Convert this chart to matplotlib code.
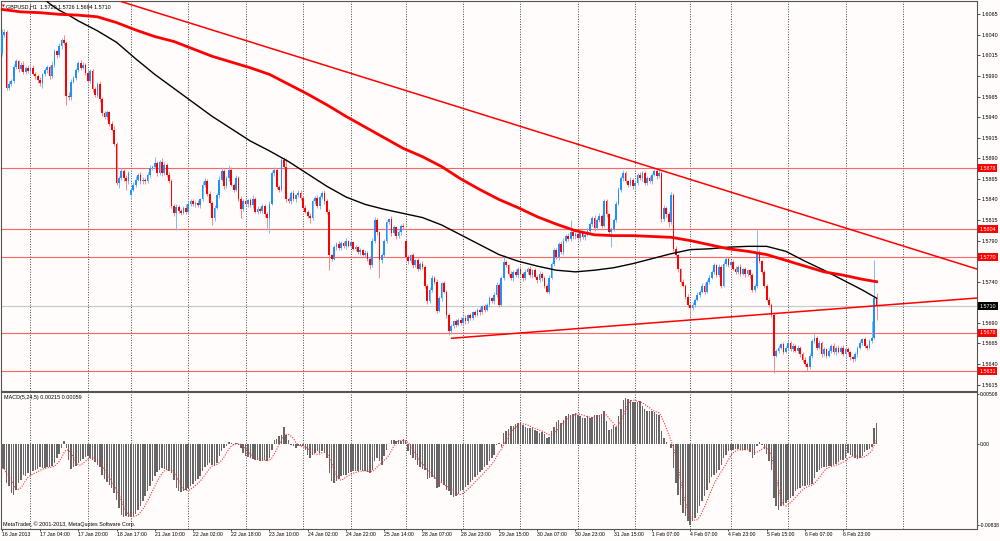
import numpy as np
import pandas as pd
import matplotlib
matplotlib.use("Agg")
import matplotlib.pyplot as plt
from matplotlib.transforms import blended_transform_factory

# ---------------- data (prices in pips above 1.0000) ----------------
first_open = 6018
gap_open = {54: 5846, 169: 5790}

close_pips = [
    6040,6044,5976,5980,5984,6001,6008,5998,6004,5995,6000,5996,6000,5993,5990,5985,5981,5992,5997,6001,
    5990,6004,6020,6015,6026,6034,6030,5966,5964,5983,5988,5997,6006,6000,6004,5994,5984,5996,5974,5967,
    5980,5962,5945,5940,5946,5932,5925,5908,5860,5866,5874,5866,5862,5872,5852,5858,5864,5870,5862,5864,
    5862,5870,5878,5880,5884,5872,5886,5872,5882,5870,5863,5832,5823,5831,5826,5824,5830,5825,5835,5838,
    5834,5836,5833,5840,5858,5863,5847,5836,5817,5830,5845,5864,5874,5856,5866,5876,5858,5852,5866,5841,
    5829,5838,5834,5839,5833,5841,5825,5829,5826,5832,5822,5817,5835,5872,5876,5855,5852,5888,5880,5840,
    5838,5848,5840,5845,5848,5842,5830,5825,5820,5817,5838,5842,5832,5843,5848,5838,5825,5772,5768,5782,
    5786,5781,5787,5783,5789,5784,5788,5780,5782,5776,5778,5773,5775,5768,5760,5790,5815,5800,5766,5772,
    5790,5812,5816,5799,5806,5795,5800,5808,5806,5770,5765,5772,5760,5766,5756,5762,5758,5735,5716,5730,
    5745,5740,5705,5720,5738,5728,5700,5680,5686,5692,5688,5694,5690,5696,5692,5699,5696,5703,5700,5706,
    5703,5710,5706,5712,5720,5716,5724,5736,5712,5745,5764,5760,5750,5744,5752,5748,5756,5750,5744,5752,
    5756,5748,5754,5746,5742,5750,5744,5735,5728,5745,5762,5778,5770,5786,5776,5790,5796,5792,5800,5795,
    5798,5793,5799,5794,5797,5802,5810,5818,5805,5815,5820,5808,5838,5822,5800,5804,5815,5835,5852,5866,
    5872,5862,5858,5864,5856,5860,5870,5866,5872,5860,5866,5862,5870,5875,5868,5872,5816,5830,5822,5812,
    5846,5780,5772,5755,5740,5735,5722,5712,5708,5712,5718,5724,5728,5735,5728,5740,5745,5752,5760,5748,
    5758,5735,5762,5768,5760,5764,5756,5752,5758,5750,5755,5749,5754,5748,5730,5735,5776,5765,5752,5735,
    5718,5712,5700,5650,5656,5660,5664,5655,5660,5666,5658,5662,5656,5660,5652,5645,5640,5636,5650,5668,
    5672,5660,5666,5652,5658,5650,5656,5662,5654,5660,5655,5660,5652,5658,5654,5648,5646,5652,5660,5666,
    5670,5662,5660,5668,5672,5720,5710,
]

upper_wick = [
    7,3,2,4,3,4,3,2,3,4,2,3,2,3,2,3,4,2,3,2,
    3,4,3,2,4,2,6,3,4,3,2,3,2,4,3,2,4,3,2,3,
    3,4,2,3,3,2,3,4,2,3,4,3,4,3,2,3,4,2,3,3,
    2,3,4,2,8,3,2,4,3,2,3,2,3,3,2,3,2,4,3,2,
    3,2,3,2,4,3,2,3,2,3,3,4,6,3,2,6,3,2,4,3,
    3,2,3,2,3,4,2,3,2,3,2,3,3,3,4,2,3,2,3,10,
    3,2,3,2,3,4,2,3,2,3,3,2,4,3,2,3,2,3,2,3,
    2,3,3,2,4,2,3,2,3,2,3,2,3,2,3,3,4,3,2,3,
    2,3,2,4,3,2,3,2,3,2,3,2,3,2,3,2,3,2,2,3,
    3,2,3,3,2,3,2,2,3,2,3,2,3,2,3,2,3,2,3,2,
    3,2,3,2,3,2,3,4,3,2,8,3,2,3,2,3,2,3,2,3,
    2,3,2,3,2,3,2,3,2,3,2,3,3,2,3,3,2,3,15,3,
    2,3,2,3,2,3,3,2,3,2,3,2,3,3,2,3,2,3,3,2,
    4,3,2,3,2,3,2,3,2,3,2,3,2,2,3,5,2,3,2,3,
    3,2,3,2,2,3,2,3,2,3,2,3,2,3,3,2,3,2,3,2,
    3,2,3,2,2,3,2,3,2,3,2,3,2,2,3,2,27,3,2,2,
    2,3,2,3,2,3,2,3,2,3,2,3,2,3,2,2,3,2,3,3,
    5,2,3,2,3,2,3,2,3,2,3,2,3,2,3,2,2,3,2,3,
    2,3,2,3,20,46,6,
]

lower_wick = [
    4,3,3,3,2,3,2,3,2,3,3,2,3,2,3,4,3,5,2,3,
    3,2,3,3,2,3,2,11,3,3,2,3,2,3,2,3,3,2,4,3,
    2,3,3,2,3,3,2,3,3,6,2,3,10,3,3,2,3,2,3,3,
    3,2,3,2,3,3,2,3,2,3,3,2,3,20,2,3,2,3,2,3,
    2,3,2,3,2,3,3,2,8,3,2,3,2,3,2,3,2,3,2,3,
    12,3,2,3,2,3,2,3,2,3,3,12,18,2,3,2,3,2,3,3,
    2,3,2,3,2,3,3,2,3,6,2,3,2,3,2,3,3,18,3,2,
    3,2,3,2,3,2,3,2,3,2,3,2,3,3,5,2,3,3,22,3,
    2,3,2,3,2,3,2,3,2,3,3,2,3,2,3,2,3,3,3,2,
    2,3,3,2,3,2,4,5,3,2,3,2,3,2,3,2,3,2,3,2,
    3,2,3,2,3,2,3,2,3,2,3,2,3,2,3,2,3,2,3,2,
    3,2,3,2,3,2,3,3,2,3,2,3,2,3,2,3,2,3,2,3,
    3,2,3,2,3,2,3,2,3,2,3,3,2,3,3,18,2,3,2,3,
    3,2,3,2,3,2,3,2,3,2,3,2,3,2,3,2,3,2,3,5,
    2,3,2,3,3,2,3,3,10,2,3,2,3,2,3,2,3,2,3,2,
    2,3,2,3,2,3,2,3,2,3,2,3,2,3,3,2,3,2,3,3,
    2,3,3,21,2,3,2,3,2,3,2,3,2,3,3,2,3,5,2,3,
    2,3,2,3,2,3,2,3,2,3,2,3,2,3,2,3,3,2,3,2,
    3,2,3,2,3,2,16,
]

# MACD main line, in units of 0.00001
macd_e5 = [
    -250,-265,-405,-439,-508,-525,-473,-405,-370,-319,-336,-302,-319,-285,-274,-261,-240,-250,-250,-240,
    -240,-226,-199,-147,-103,-45,24,-45,-165,-261,-240,-226,-199,-182,-158,-137,-123,-147,-165,-192,
    -216,-240,-319,-364,-398,-422,-456,-508,-576,-662,-731,-755,-748,-755,-755,-748,-720,-679,-638,-593,
    -542,-490,-439,-388,-336,-295,-268,-250,-261,-274,-285,-302,-370,-456,-490,-501,-490,-473,-456,-432,
    -412,-388,-364,-336,-285,-240,-216,-199,-216,-233,-199,-130,-79,-45,-21,14,7,-10,7,-10,
    -45,-96,-123,-137,-147,-158,-165,-172,-175,-175,-172,-182,-147,-62,41,48,75,93,172,93,
    41,-10,-20,-45,-27,-21,-27,-62,-113,-147,-113,-96,-79,-96,-79,-96,-147,-302,-388,-405,
    -388,-364,-336,-319,-319,-302,-295,-285,-285,-285,-268,-278,-285,-295,-302,-268,-182,-147,-182,-216,
    -130,-62,0,41,41,24,34,24,48,24,-79,-113,-147,-172,-216,-240,-261,-268,-364,-353,
    -343,-364,-456,-446,-398,-422,-473,-490,-525,-549,-535,-515,-490,-473,-446,-422,-398,-370,-343,-319,
    -295,-268,-240,-216,-182,-147,-113,-10,7,-34,110,127,151,178,185,206,213,223,196,172,
    158,158,161,137,127,110,117,103,58,69,127,172,220,247,213,247,281,309,298,309,
    316,298,288,264,264,281,264,274,298,298,298,309,333,230,144,151,196,172,281,357,
    453,470,460,446,425,425,425,436,391,357,333,333,333,322,309,298,127,58,14,0,
    -45,-250,-405,-525,-628,-713,-748,-799,-833,-799,-765,-713,-645,-593,-542,-473,-405,-343,-319,-302,
    -268,-216,-147,-113,-79,-62,-69,-55,-55,-69,-69,-62,-55,-89,-147,-113,-27,14,-10,-55,
    -103,-182,-268,-559,-645,-679,-645,-628,-611,-583,-559,-535,-490,-466,-456,-439,-432,-422,-422,-412,
    -353,-295,-268,-250,-240,-240,-226,-226,-216,-206,-192,-172,-165,-147,-96,-113,-123,-147,-158,-147,
    -123,-89,-69,-55,-34,161,215,
]
signal_period = 5

# moving averages read at sample bars (pips above 1.0000)
black_ma_idx = [16,20,24,28,32,40,48,56,64,72,80,88,96,104,112,120,128,136,144,152,160,168,176,184,192,200,
                208,216,224,232,240,248,256,264,272,280,288,296,304,312,320,328,336,344,352,360,366]
black_ma = [6088,6078,6070,6064,6057,6045,6031,6011,5992,5975,5958,5941,5926,5911,5899,5886,5871,5856,5843,
            5834,5828,5823,5818,5809,5797,5785,5773,5765,5759,5754,5752,5754,5757,5762,5768,5774,5779,5780,
            5782,5783,5783,5777,5765,5754,5742,5730,5720]
red_ma_idx = [0,8,16,24,32,40,48,56,64,72,80,88,96,104,112,120,128,136,144,152,160,168,176,184,192,200,
              208,216,224,232,240,248,256,264,272,280,288,296,304,312,320,328,336,344,352,360,366]
red_ma = [6071,6068,6067,6065,6064,6062,6055,6046,6038,6032,6023,6014,6007,6000,5992,5980,5968,5955,5941,
          5928,5915,5902,5892,5880,5865,5852,5840,5830,5819,5810,5802,5797,5796,5796,5795,5794,5790,5785,
          5780,5777,5773,5766,5759,5752,5748,5743,5740]

# chart objects
hline_levels = [1.5878, 1.5804, 1.5770, 1.5678, 1.5631]
bid_level = 1.5710
upper_trend = [(50.2, 1.60803), (408.0, 1.57554)]
lower_trend = [(188.2, 1.56713), (408.0, 1.57202)]
day_separators = [12, 36, 54, 78, 102, 126, 146, 169, 193, 217, 241, 265, 288, 305, 329, 353, 377]

time_tick_idx = list(range(0, 353, 16))
time_labels = ["16 Jan 2013", "17 Jan 04:00", "17 Jan 20:00", "18 Jan 17:00", "21 Jan 10:00",
               "22 Jan 02:00", "22 Jan 18:00", "23 Jan 10:00", "24 Jan 02:00", "24 Jan 22:00",
               "25 Jan 14:00", "28 Jan 07:00", "28 Jan 23:00", "29 Jan 15:00", "30 Jan 07:00",
               "30 Jan 23:00", "31 Jan 15:00", "1 Feb 07:00", "4 Feb 07:00", "4 Feb 23:00",
               "5 Feb 15:00", "6 Feb 07:00", "6 Feb 23:00"]
price_ticks = [1.6065, 1.6040, 1.6015, 1.5990, 1.5965, 1.5940, 1.5915, 1.5890, 1.5865, 1.5840,
               1.5815, 1.5790, 1.5740, 1.5690, 1.5665, 1.5640, 1.5615]
macd_ticks = [0.00508, 0.0, -0.00838]
macd_tick_labels = ["0.00508", "0.00", "-0.00838"]

header = "GBPUSD,H1  1.5720 1.5726 1.5694 1.5710"
macd_header = "MACD(5,24,5) 0.00215 0.00059"
copyright_txt = "MetaTrader, \u00a9 2001-2013, MetaQuotes Software Corp."

assert len(close_pips) == len(upper_wick) == len(lower_wick) == len(macd_e5), \
    (len(close_pips), len(upper_wick), len(lower_wick), len(macd_e5))

BASE = 1.0
SCALE = 10000.0

# ---------------- build OHLC ----------------
n = len(close_pips)
x = np.arange(n)
c = BASE + np.array(close_pips) / SCALE
o = np.empty(n)
o[0] = BASE + first_open / SCALE
o[1:] = c[:-1]
for k, v in gap_open.items():
    o[k] = BASE + v / SCALE
hi = np.maximum(o, c) + np.array(upper_wick) / SCALE
lo = np.minimum(o, c) - np.array(lower_wick) / SCALE
up = c >= o
up_col, dn_col = "#1E90FF", "#FF0000"
cols = np.where(up, up_col, dn_col)
wick_cols = np.where(up, "#7DBBF5", "#F58A8A")

macd = np.array(macd_e5) / 100000.0
signal = pd.Series(macd).rolling(signal_period, min_periods=1).mean().values

# ---------------- figure ----------------
W, H = 1000, 541
bg = "#FFFCFB"
plt.rcParams["font.family"] = ["Liberation Sans", "DejaVu Sans"]
fig = plt.figure(figsize=(W / 100, H / 100), dpi=100, facecolor=bg)

def fx(px):
    return px / W

def fy(py):
    return 1 - py / H

ax = fig.add_axes([fx(1), fy(390.5), fx(976), (390.5 - 1) / H], facecolor=bg)
ax2 = fig.add_axes([fx(1), fy(529), fx(976), (529 - 392) / H], facecolor=bg)

xlim = (-0.33, 408.0)
for a in (ax, ax2):
    a.set_xlim(*xlim)
    for s in a.spines.values():
        s.set_color("#555555")
        s.set_linewidth(0.8)
    for d in day_separators:
        a.axvline(d, color="#444444", lw=0.7, ls=(0, (1.0, 1.6)), zorder=1)

ax.set_ylim(1.56078, 1.60812)
ax2.set_ylim(-0.008786, 0.005325)

# horizontal lines
for lv in hline_levels:
    ax.axhline(lv, color="#FF4A4A", lw=0.8, alpha=0.85, zorder=2)
ax.axhline(bid_level, color="#C8C8C8", lw=0.8, zorder=2)

# candles
ax.vlines(x, lo, hi, colors=wick_cols, lw=0.7, zorder=3)
body = np.maximum(np.abs(c - o), 0.00007)
ax.bar(x, body, bottom=np.minimum(o, c), width=0.72, color=cols, linewidth=0, zorder=3)

# moving averages
ax.plot(black_ma_idx, BASE + np.array(black_ma) / SCALE, color="black", lw=1.0, zorder=4)
ax.plot(red_ma_idx, BASE + np.array(red_ma) / SCALE, color="#FF0000", lw=2.0, zorder=4)

# trend lines
for (x0, p0), (x1, p1) in (upper_trend, lower_trend):
    ax.plot([x0, x1], [p0, p1], color="#FF0000", lw=1.1, zorder=5, clip_on=True)

# price axis
ax.yaxis.tick_right()
ax.set_yticks(price_ticks)
ax.set_yticklabels([f"{p:.4f}" for p in price_ticks])
ax.tick_params(axis="y", direction="out", length=2, width=0.5, pad=1.2, labelsize=3.9,
               colors="black")
ax.set_xticks([])

tr = blended_transform_factory(ax.transAxes, ax.transData)
for lv in hline_levels:
    ax.text(1.0025, lv, f"{lv:.4f}", transform=tr, ha="left", va="center", fontsize=3.9,
            color="white", clip_on=False, zorder=10,
            bbox=dict(boxstyle="square,pad=0.28", fc="#FF0000", ec="none"))
ax.text(1.0025, bid_level, f"{bid_level:.4f}", transform=tr, ha="left", va="center",
        fontsize=3.9, color="white", clip_on=False, zorder=10,
        bbox=dict(boxstyle="square,pad=0.28", fc="black", ec="none"))

# MACD pane
ax2.bar(x, macd, width=0.62, color="#666666", linewidth=0, zorder=3)
ax2.plot(x, signal, color="#FF3030", lw=0.8, ls=(0, (1.0, 1.3)), zorder=4)
ax2.yaxis.tick_right()
ax2.set_yticks(macd_ticks)
ax2.set_yticklabels(macd_tick_labels)
ax2.tick_params(axis="y", direction="out", length=1.5, width=0.5, pad=0.5, labelsize=3.6)
ax2.set_xticks(time_tick_idx)
ax2.set_xticklabels(time_labels, ha="left")
ax2.tick_params(axis="x", direction="out", length=1.5, width=0.5, pad=0.6, labelsize=3.7)

# texts
fig.text(fx(1.5), fy(6.5), "\u25bc", color="#FF0000", fontsize=2.6, ha="left", va="center",
         family=["DejaVu Sans"])
fig.text(fx(5.5), fy(6.5), header, fontsize=3.9, ha="left", va="center")
fig.text(fx(4), fy(397), macd_header, fontsize=3.9, ha="left", va="center")
fig.text(fx(3), fy(524), copyright_txt, fontsize=3.9, ha="left", va="center")

fig.savefig("out.png", dpi=100, facecolor=bg)
